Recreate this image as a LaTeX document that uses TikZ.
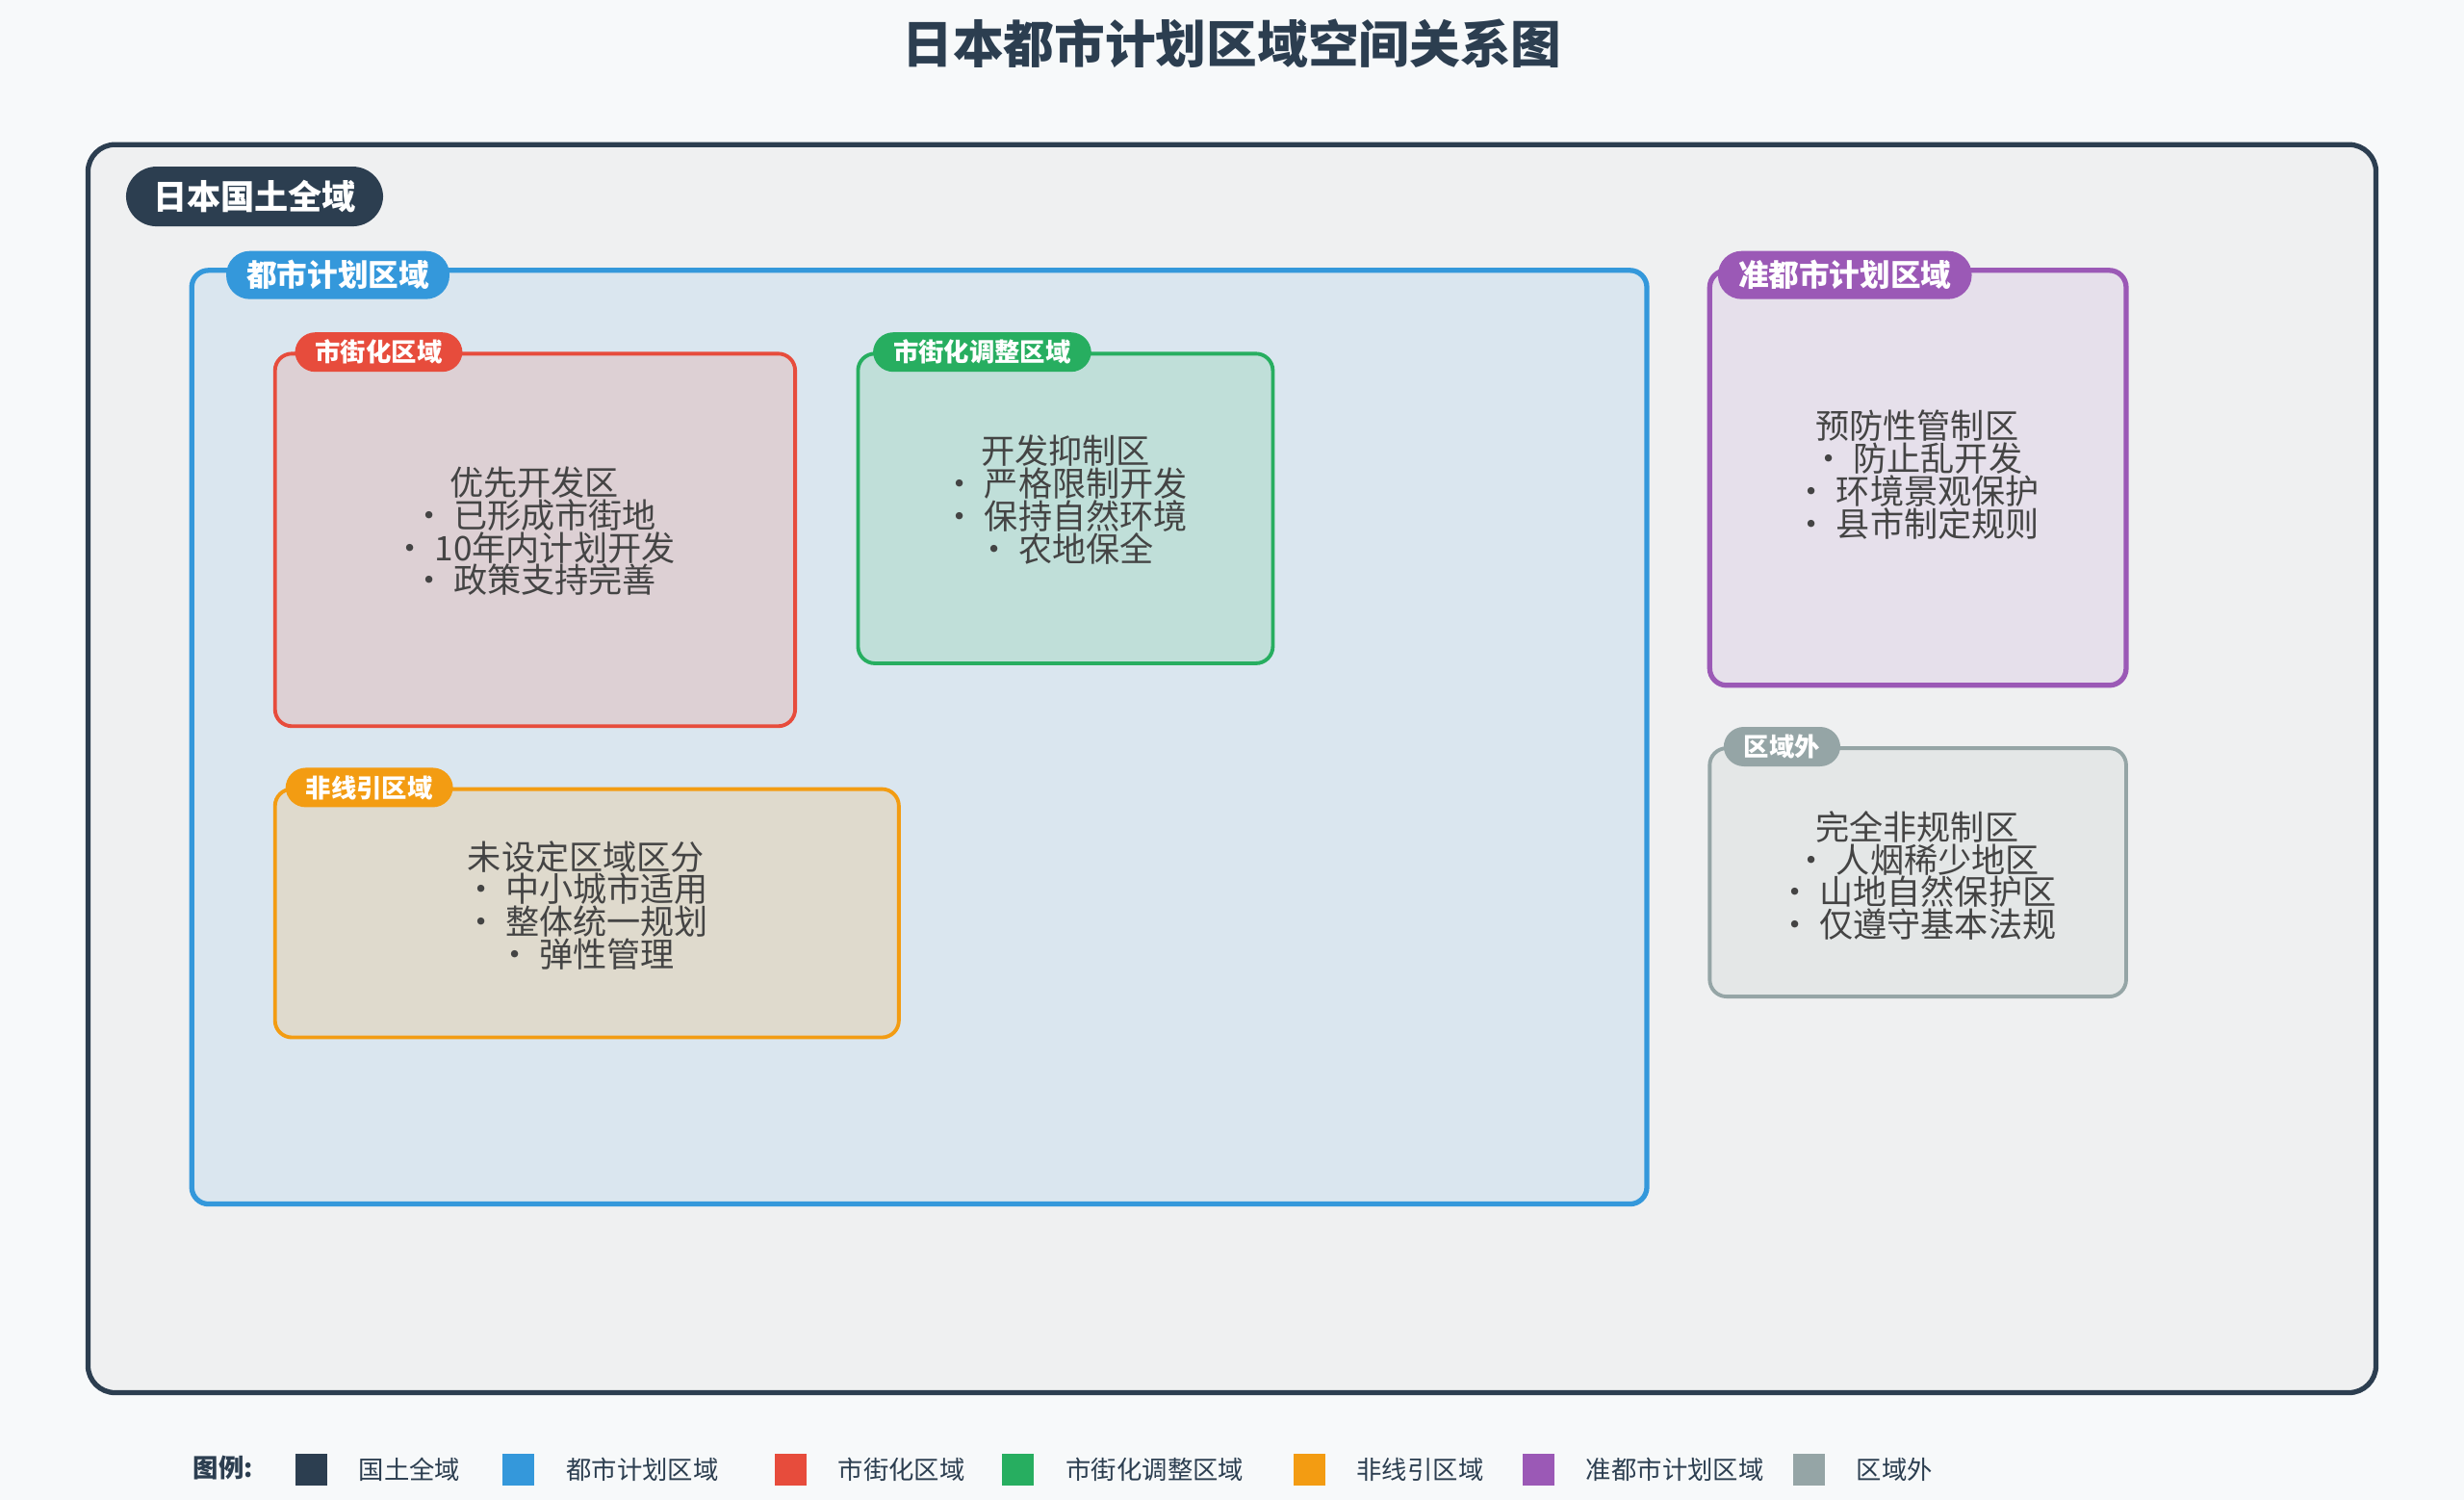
\documentclass[tikz,border=0pt]{standalone}
\usepackage{fontspec}
\setmainfont{Noto Sans CJK SC}
\usetikzlibrary{positioning}
\definecolor{ink}{HTML}{2C3E50}
\definecolor{txt}{HTML}{444444}
\definecolor{cblue}{HTML}{3498DB}
\definecolor{cred}{HTML}{E74C3C}
\definecolor{cgreen}{HTML}{27AE60}
\definecolor{corange}{HTML}{F39C12}
\definecolor{cpurple}{HTML}{9B59B6}
\definecolor{cgray}{HTML}{95A5A6}
\tikzset{
        zone/.style={draw=#1, line width=1.1pt, rounded corners=5pt}, % region frames
        pill/.style={fill=#1, text=white, font=\bfseries\fontsize{7.5pt}{7.5pt}\selectfont,
                     rounded corners=6pt, inner xsep=6pt, minimum height=0.41cm, inner ysep=0pt},
        info/.style={text=txt, align=center, font=\fontsize{10pt}{9.6pt}\selectfont},
        swatch/.style={fill=#1, minimum size=0.33cm, inner sep=0pt},
        legtext/.style={text=ink, font=\fontsize{7.5pt}{7.5pt}\selectfont, right=0.2cm of #1},
    }
\begin{document}
\begin{tikzpicture}[x=0.016327cm, y=-0.016327cm]
    \fill[fill={rgb,255:red,247;green,249;blue,250}] (0,0) rectangle (1568,954);
    \useasboundingbox (0,0) rectangle (1568,954);
    \node[text=ink, font=\bfseries\fontsize{15pt}{15pt}\selectfont] (title) at (784,28) {日本都市计划区域空间关系图};
    % national territory
    \draw[zone=ink, line width=1.5pt, fill={rgb,255:red,239;green,240;blue,241}, rounded corners=8pt] (56,92) rectangle (1512,886);
    \node[pill=ink, font=\bfseries\fontsize{10pt}{10pt}\selectfont, minimum height=0.62cm, rounded corners=9pt, inner xsep=8pt] (land) at (162,125) {日本国土全域};
    % city planning area
    \draw[zone=cblue, line width=1.5pt, fill={rgb,255:red,218;green,230;blue,239}] (122,172) rectangle (1048,766);
    \node[pill=cblue, font=\bfseries\fontsize{9pt}{9pt}\selectfont, minimum height=0.5cm, rounded corners=7pt] (city) at (215,175) {都市计划区域};
    % urbanization promotion
    \draw[zone=cred, fill={rgb,255:red,221;green,208;blue,212}] (175,225) rectangle (506,462);
    \node[pill=cred] (urban) at (241,224) {市街化区域};
    \node[info] (urbantext) at (340,338) {优先开发区\\• 已形成市街地\\• 10年内计划开发\\• 政策支持完善};
    % urbanization control
    \draw[zone=cgreen, fill={rgb,255:red,192;green,223;blue,217}] (546,225) rectangle (810,422);
    \node[pill=cgreen] (control) at (625,224) {市街化调整区域};
    \node[info] (controltext) at (678,318) {开发抑制区\\• 严格限制开发\\• 保持自然环境\\• 农地保全};
    % non-delineated
    \draw[zone=corange, fill={rgb,255:red,223;green,218;blue,205}] (175,502) rectangle (572,660);
    \node[pill=corange] (nonline) at (235,501) {非线引区域};
    \node[info] (nonlinetext) at (373,576) {未设定区域区分\\• 中小城市适用\\• 整体统一规划\\• 弹性管理};
    % quasi city planning
    \draw[zone=cpurple, line width=1.5pt, fill={rgb,255:red,230;green,224;blue,235}] (1088,172) rectangle (1353,436);
    \node[pill=cpurple, font=\bfseries\fontsize{9pt}{9pt}\selectfont, minimum height=0.5cm, rounded corners=7pt] (quasi) at (1174,175) {准都市计划区域};
    \node[info] (quasitext) at (1220,302) {预防性管制区\\• 防止乱开发\\• 环境景观保护\\• 县市制定规则};
    % outside
    \draw[zone=cgray, fill={rgb,255:red,228;green,231;blue,231}] (1088,476) rectangle (1353,634);
    \node[pill=cgray] (outside) at (1134,475) {区域外};
    \node[info] (outsidetext) at (1220,557) {完全非规制区\\• 人烟稀少地区\\• 山地自然保护区\\• 仅遵守基本法规};
    % legend
    \node[text=ink, font=\bfseries\fontsize{7.5pt}{7.5pt}\selectfont] (legend) at (142,934) {图例:};
    \node[swatch=ink] (s1) at (198,935) {};
    \node[legtext=s1] (l1) {国土全域};
    \node[swatch=cblue] (s2) at (330,935) {};
    \node[legtext=s2] (l2) {都市计划区域};
    \node[swatch=cred] (s3) at (503,935) {};
    \node[legtext=s3] (l3) {市街化区域};
    \node[swatch=cgreen] (s4) at (648,935) {};
    \node[legtext=s4] (l4) {市街化调整区域};
    \node[swatch=corange] (s5) at (833,935) {};
    \node[legtext=s5] (l5) {非线引区域};
    \node[swatch=cpurple] (s6) at (979,935) {};
    \node[legtext=s6] (l6) {准都市计划区域};
    \node[swatch=cgray] (s7) at (1151,935) {};
    \node[legtext=s7] (l7) {区域外};
\end{tikzpicture}
\end{document}
